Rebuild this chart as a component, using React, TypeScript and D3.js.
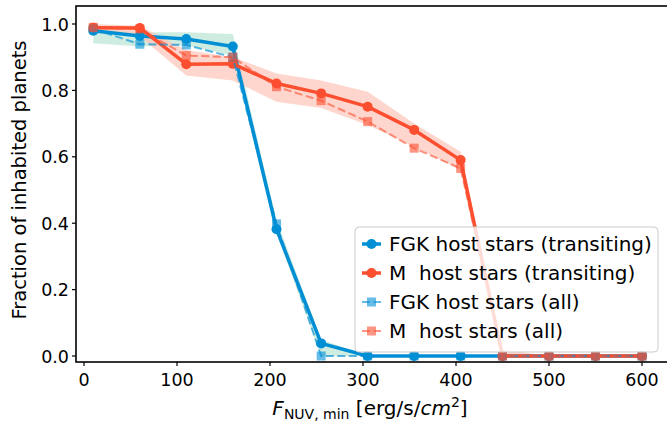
import React from "react";
import * as d3 from "d3";

const xs = [10, 60, 110, 160, 207, 255, 305, 355, 405, 450, 500, 550, 600];
const fgkTransit = [0.98, 0.964, 0.955, 0.932, 0.382, 0.038, 0, 0, 0, 0, 0, 0, 0];
const mTransit = [0.989, 0.988, 0.879, 0.88, 0.821, 0.791, 0.751, 0.681, 0.59, 0, 0, 0, 0];
const fgkAll = [0.985, 0.939, 0.937, 0.9, 0.398, 0.0, 0, 0, 0, 0, 0, 0, 0];
const mAll = [0.99, 0.985, 0.905, 0.9, 0.811, 0.769, 0.706, 0.626, 0.565, 0, 0, 0, 0];
const fgkBandLo = [0.942, 0.932, 0.935, 0.905, 0.37, 0.0, 0, 0, 0, 0, 0, 0, 0];
const fgkBandHi = [0.992, 0.975, 0.975, 0.97, 0.41, 0.05, 0, 0, 0, 0, 0, 0, 0];
const mBandLo = [0.975, 0.962, 0.845, 0.83, 0.766, 0.747, 0.696, 0.63, 0.56, 0, 0, 0, 0];
const mBandHi = [1.0, 0.995, 0.922, 0.9, 0.851, 0.83, 0.796, 0.7, 0.615, 0.02, 0, 0, 0];
const xTicks = [0, 100, 200, 300, 400, 500, 600];
const yTicks = [0, 0.2, 0.4, 0.6, 0.8, 1.0];
const legendLabels = [
  "FGK host stars (transiting)",
  "M  host stars (transiting)",
  "FGK host stars (all)",
  "M  host stars (all)",
];

const BLUE = "#008fd5";
const RED = "#fc4f30";
const FONT = "DejaVu Sans, sans-serif";

export default function App() {
  const x = d3.scaleLinear().domain([0, 600]).range([84, 642]);
  const y = d3.scaleLinear().domain([0, 1]).range([356, 24]);
  const left = 76, right = 690, top = 6, bottom = 362;

  const line = (vals: number[]) =>
    d3.line<number>().x((_, i) => x(xs[i])).y((v) => y(v))(vals) as string;
  const band = (lo: number[], hi: number[]) =>
    d3
      .area<number>()
      .x((_, i) => x(xs[i]))
      .y0((_, i) => y(lo[i]))
      .y1((_, i) => y(hi[i]))(lo) as string;

  const legendY = [244, 273, 302, 331];

  return (
    <svg
      width={667}
      height={421}
      style={{ position: "absolute", left: 0, top: 0, background: "#fff" }}
      fontFamily={FONT}
    >
      <defs>
        <clipPath id="plot">
          <rect x={left} y={top} width={right - left} height={bottom - top} />
        </clipPath>
      </defs>
      <g clipPath="url(#plot)">
        <path d={band(fgkBandLo, fgkBandHi)} fill="#bfe6d6" opacity={0.75} />
        <path d={band(mBandLo, mBandHi)} fill="#fdc5b8" opacity={0.7} />
        {/* FGK transiting */}
        <path d={line(fgkTransit)} fill="none" stroke={BLUE} strokeWidth={3.5} strokeLinejoin="round" />
        {fgkTransit.map((v, i) => (
          <circle key={"ft" + i} cx={x(xs[i])} cy={y(v)} r={5} fill={BLUE} />
        ))}
        {/* M transiting */}
        <path d={line(mTransit)} fill="none" stroke={RED} strokeWidth={3.5} strokeLinejoin="round" />
        {mTransit.map((v, i) => (
          <circle key={"mt" + i} cx={x(xs[i])} cy={y(v)} r={5} fill={RED} />
        ))}
        {/* FGK all */}
        <g opacity={0.65}>
          <path d={line(fgkAll)} fill="none" stroke={BLUE} strokeWidth={2} strokeDasharray="8,3.5" />
        </g>
        {fgkAll.map((v, i) => (
          <rect key={"fa" + i} x={x(xs[i]) - 4.5} y={y(v) - 4.5} width={9} height={9} fill={BLUE} opacity={0.6} />
        ))}
        {/* M all */}
        <g opacity={0.6}>
          <path d={line(mAll)} fill="none" stroke={RED} strokeWidth={2} strokeDasharray="8,3.5" />
        </g>
        {mAll.map((v, i) => (
          <rect key={"ma" + i} x={x(xs[i]) - 4.5} y={y(v) - 4.5} width={9} height={9} fill={RED} opacity={0.6} />
        ))}
      </g>

      {/* spines */}
      <rect x={left} y={top} width={right - left} height={bottom - top} fill="none" stroke="#000" strokeWidth={1.6} />

      {/* x ticks */}
      {xTicks.map((t) => (
        <g key={"xt" + t}>
          <line x1={x(t)} x2={x(t)} y1={bottom} y2={bottom + 4} stroke="#000" strokeWidth={1.2} />
          <text x={x(t)} y={bottom + 24} fontSize={17.5} textAnchor="middle" fill="#000">
            {t}
          </text>
        </g>
      ))}
      {/* y ticks */}
      {yTicks.map((t) => (
        <g key={"yt" + t}>
          <line x1={left} x2={left - 4} y1={y(t)} y2={y(t)} stroke="#000" strokeWidth={1.2} />
          <text x={left - 7} y={y(t) + 6.5} fontSize={17.5} textAnchor="end" fill="#000">
            {t.toFixed(1)}
          </text>
        </g>
      ))}

      {/* y label */}
      <text
        transform={`translate(26, ${(top + bottom) / 2 - 4}) rotate(-90)`}
        fontSize={19.5}
        textAnchor="middle"
        fill="#000"
      >
        Fraction of inhabited planets
      </text>

      {/* x label */}
      <text x={370} y={415} fontSize={20} textAnchor="middle" fill="#000">
        <tspan fontStyle="italic">F</tspan>
        <tspan fontSize={14} dy={4}>NUV, min</tspan>
        <tspan dy={-4}> [erg/s/</tspan>
        <tspan fontStyle="italic">cm</tspan>
        <tspan fontSize={14} dy={-8}>2</tspan>
        <tspan dy={8}>]</tspan>
      </text>

      {/* legend */}
      <rect x={355} y={227} width={303} height={125} rx={4} fill="#fff" fillOpacity={0.8} stroke="#ccc" strokeWidth={1} />
      {legendLabels.map((lab, i) => {
        const cy = legendY[i];
        const col = i % 2 === 0 ? BLUE : RED;
        const transit = i < 2;
        return (
          <g key={"lg" + i}>
            {transit ? (
              <>
                <line x1={362} x2={381} y1={cy} y2={cy} stroke={col} strokeWidth={3.5} />
                <circle cx={371.5} cy={cy} r={5} fill={col} />
              </>
            ) : (
              <>
                <line x1={362} x2={381} y1={cy} y2={cy} stroke={col} strokeWidth={2} opacity={0.6} strokeDasharray="8,3.5" />
                <rect x={367} y={cy - 4.5} width={9} height={9} fill={col} opacity={0.6} />
              </>
            )}
            <text x={389} y={cy + 7} fontSize={20} fill="#000" style={{ whiteSpace: "pre" }}>
              {lab}
            </text>
          </g>
        );
      })}
    </svg>
  );
}
